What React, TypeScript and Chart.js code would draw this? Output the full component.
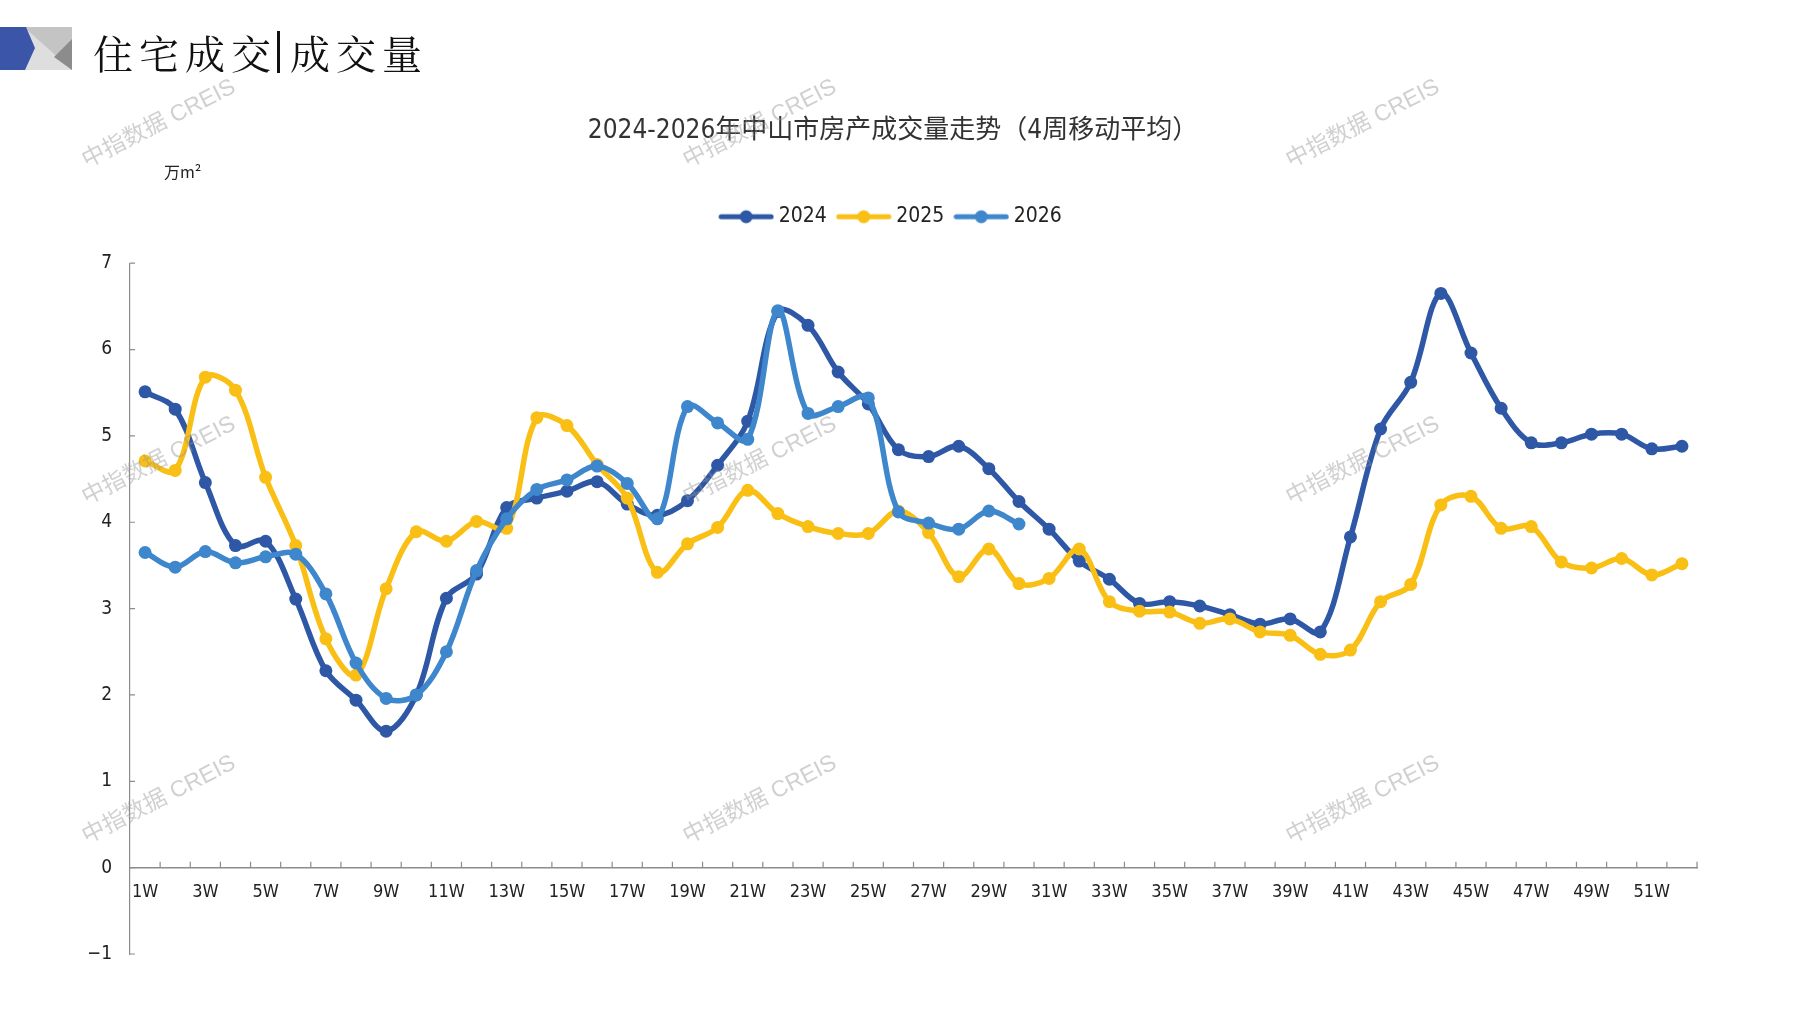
import React, { useEffect, useRef } from "react";
import { Chart, registerables } from "chart.js";

Chart.register(...registerables);

// categories: weeks 1W..52W
const weeks = Array.from({ length: 52 }, (_, i) => `${i + 1}W`);

// 4-week moving average, 万m²
const sales2024 = [
  5.51, 5.31, 4.46, 3.73, 3.78, 3.11, 2.28, 1.94, 1.58, 2.0,
  3.12, 3.4, 4.17, 4.28, 4.36, 4.47, 4.21, 4.08, 4.25, 4.66,
  5.17, 6.44, 6.28, 5.74, 5.37, 4.84, 4.76, 4.88, 4.62, 4.24,
  3.92, 3.55, 3.34, 3.06, 3.08, 3.03, 2.93, 2.82, 2.88, 2.73,
  3.83, 5.08, 5.62, 6.65, 5.96, 5.32, 4.92, 4.92, 5.02, 5.02,
  4.85, 4.88,
];
const sales2025 = [
  4.71, 4.6, 5.68, 5.53, 4.52, 3.73, 2.65, 2.23, 3.23, 3.89,
  3.78, 4.01, 3.93, 5.21, 5.12, 4.67, 4.28, 3.42, 3.75, 3.94,
  4.37, 4.1, 3.95, 3.87, 3.87, 4.13, 3.88, 3.37, 3.69, 3.29,
  3.35, 3.69, 3.08, 2.97, 2.96, 2.83, 2.88, 2.73, 2.69, 2.47,
  2.52, 3.08, 3.28, 4.2, 4.3, 3.93, 3.95, 3.54, 3.47, 3.58,
  3.39, 3.52,
];
const sales2026 = [
  3.65, 3.48, 3.66, 3.53, 3.6, 3.63, 3.17, 2.37, 1.96, 2.0,
  2.5, 3.44, 4.04, 4.38, 4.49, 4.65, 4.45, 4.04, 5.34, 5.15,
  4.96, 6.45, 5.26, 5.34, 5.44, 4.12, 3.99, 3.92, 4.13, 3.98,
];

const seriesNames = ["2024", "2025", "2026"];
const seriesColors = ["#2E58A6", "#F9BF14", "#3E87CC"];
const yMin = -1;
const yMax = 7;

const chartTitle = "2024-2026年中山市房产成交量走势（4周移动平均）";
const watermark = "中指数据 CREIS";

const narrowFont =
  "'Liberation Sans Narrow', 'DejaVu Sans Condensed', 'Noto Sans CJK SC', sans-serif";
const cjkFont = "'Noto Sans CJK SC', sans-serif";

const watermarkSpots = [
  [159, 124], [760, 124], [1363, 124],
  [159, 461], [760, 461], [1363, 461],
  [159, 800], [760, 800], [1363, 800],
];

function legendIcon(color: string) {
  const c = document.createElement("canvas");
  c.width = 56;
  c.height = 16;
  const g = c.getContext("2d")!;
  g.strokeStyle = color;
  g.lineWidth = 5;
  g.lineCap = "round";
  g.beginPath();
  g.moveTo(3, 8);
  g.lineTo(53, 8);
  g.stroke();
  g.fillStyle = color;
  g.beginPath();
  g.arc(28, 8, 6.5, 0, Math.PI * 2);
  g.fill();
  return c;
}

const innerTicks = {
  id: "innerTicks",
  beforeDatasetsDraw(chart: any) {
    const { ctx, chartArea, scales } = chart;
    const x = scales.x;
    const y = scales.y;
    ctx.save();
    ctx.strokeStyle = "#8c8c8c";
    ctx.lineWidth = 1.2;
    ctx.beginPath();
    y.ticks.forEach((t: any) => {
      const py = y.getPixelForValue(t.value);
      ctx.moveTo(chartArea.left, py);
      ctx.lineTo(chartArea.left + 5, py);
    });
    const y0 = y.getPixelForValue(0);
    for (let i = 1; i <= weeks.length; i++) {
      const px = x.getPixelForValue(i - 0.5);
      ctx.moveTo(px, y0);
      ctx.lineTo(px, y0 - 6);
    }
    ctx.stroke();
    ctx.restore();
  },
};

const watermarks = {
  id: "watermarks",
  afterDraw(chart: any) {
    const { ctx } = chart;
    ctx.save();
    ctx.fillStyle = "rgba(150,150,150,0.45)";
    ctx.font = `23px 'Liberation Sans', ${cjkFont}`;
    ctx.textAlign = "center";
    ctx.textBaseline = "middle";
    watermarkSpots.forEach(([wx, wy]) => {
      ctx.save();
      ctx.translate(wx, wy);
      ctx.rotate((-27 * Math.PI) / 180);
      ctx.fillText(watermark, 0, 0);
      ctx.restore();
    });
    ctx.restore();
  },
};

const TrendChart = () => {
  const canvasRef = useRef<HTMLCanvasElement>(null);
  const chartRef = useRef<Chart | null>(null);

  useEffect(() => {
    if (!canvasRef.current) return;
    chartRef.current?.destroy();

    const values = [sales2024, sales2025, sales2026];
    const icons = seriesColors.map(legendIcon);

    chartRef.current = new Chart(canvasRef.current, {
      type: "line",
      data: {
        labels: weeks,
        datasets: values.map((data, i) => ({
          label: seriesNames[i],
          data,
          xAxisID: "x",
          yAxisID: "y",
          borderColor: seriesColors[i],
          backgroundColor: seriesColors[i],
          pointBackgroundColor: seriesColors[i],
          pointBorderColor: seriesColors[i],
          borderWidth: 5.5,
          pointRadius: 6.5,
          pointBorderWidth: 0,
          tension: 0.35,
          order: 3 - i,
        })),
      },
      options: {
        animation: false,
        responsive: false,
        layout: { padding: { left: 89, right: 100, top: 0, bottom: 0 } },
        plugins: {
          tooltip: { enabled: false },
          title: {
            display: true,
            text: chartTitle,
            color: "#333",
            font: {
              family: narrowFont,
              size: 26,
              weight: "normal",
            },
            padding: { top: 116, bottom: 44 },
          },
          legend: {
            display: true,
            position: "top",
            labels: {
              usePointStyle: true,
              pointStyleWidth: 44,
              padding: 15,
              color: "#222",
              font: { family: narrowFont, size: 21 },
              generateLabels: (chart: any) =>
                Chart.defaults.plugins.legend.labels
                  .generateLabels(chart)
                  .sort((a: any, b: any) => a.datasetIndex - b.datasetIndex)
                  .map((item: any) => ({
                    ...item,
                    pointStyle: icons[item.datasetIndex],
                  })),
            },
          },
        },
        scales: {
          x: {
            type: "category",
            offset: true,
            position: { y: 0 },
            grid: { display: false, drawTicks: false },
            border: { display: true, color: "#8c8c8c", width: 1.5 },
            ticks: {
              autoSkip: false,
              maxRotation: 0,
              minRotation: 0,
              padding: 14,
              color: "#222",
              font: { family: narrowFont, size: 18 },
              callback: (_v: any, i: number) => (i % 2 === 0 ? weeks[i] : ""),
            },
          },
          // empty top axis, only keeps the gap between legend and plot
          gap: {
            type: "category",
            position: "top",
            display: true,
            grid: { display: false, drawTicks: false },
            border: { display: false },
            ticks: { display: false },
            afterFit: (s: any) => {
              s.height = 26;
            },
          },
          y: {
            min: yMin,
            max: yMax,
            grid: { display: false, drawTicks: false },
            border: { display: true, color: "#8c8c8c", width: 1.2 },
            ticks: {
              stepSize: 1,
              padding: 18,
              color: "#222",
              font: { family: narrowFont, size: 19 },
              callback: (v: any) => (v < 0 ? `\u2212${Math.abs(v)}` : `${v}`),
            },
            afterFit: (s: any) => {
              s.width = 130 - 89;
              s.paddingBottom = 1010 - 954;
            },
          },
        },
      },
      plugins: [innerTicks, watermarks],
    } as any);

    return () => {
      chartRef.current?.destroy();
      chartRef.current = null;
    };
  }, []);

  return (
    <canvas
      ref={canvasRef}
      width={1797}
      height={1010}
      style={{ position: "absolute", left: 0, top: 0 }}
    />
  );
};

const App = () => (
  <div
    style={{
      position: "absolute",
      left: 0,
      top: 0,
      width: 1797,
      height: 1010,
      overflow: "hidden",
      background: "#fff",
    }}
  >
    <TrendChart />
    <svg
      width={72}
      height={43}
      style={{ position: "absolute", left: 0, top: 27 }}
    >
      <rect x={24} y={0} width={48} height={43} fill="#c4c4c4" />
      <polygon points="24,0 72,43 24,43" fill="#dedede" />
      <polygon points="72,12 54,30 72,43" fill="#8c8c8c" />
      <polygon points="0,0 26,0 35,21 25,43 0,43" fill="#3B56A8" />
    </svg>
    <div
      style={{
        position: "absolute",
        left: 93,
        top: 30,
        fontFamily: "'Noto Serif CJK SC', " + cjkFont,
        fontSize: 40,
        lineHeight: "44px",
        letterSpacing: 6,
        color: "#111",
        whiteSpace: "nowrap",
        display: "flex",
        alignItems: "center",
      }}
    >
      <span>住宅成交</span>
      <span
        style={{
          display: "inline-block",
          width: 3,
          height: 42,
          background: "#111",
          margin: "0 10px 0 0",
        }}
      />
      <span>成交量</span>
    </div>
    <div
      style={{
        position: "absolute",
        left: 164,
        top: 161,
        fontFamily: cjkFont,
        fontSize: 16,
        lineHeight: "20px",
        color: "#222",
      }}
    >
      万m²
    </div>
  </div>
);

export default App;
